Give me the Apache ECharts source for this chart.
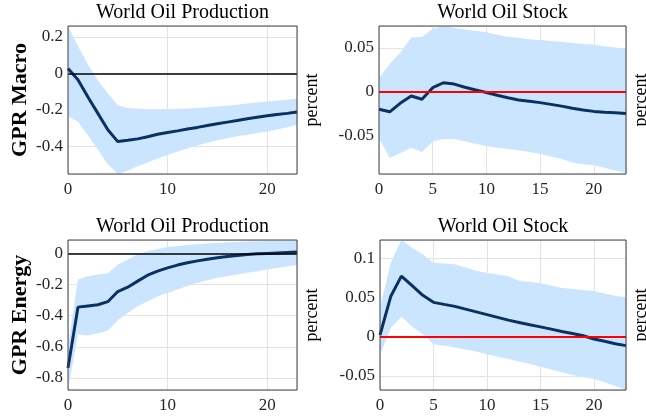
<!DOCTYPE html>
<html><head><meta charset="utf-8">
<script src="https://cdn.jsdelivr.net/npm/echarts@6/dist/echarts.min.js"></script>
<style>html,body{margin:0;padding:0;background:#fff}#c{width:646px;height:416px}</style>
</head><body><div id="c"></div>
<script>
// horizons
const horizon = [0,1,2,3,4,5,6,7,8,9,10,11,12,13,14,15,16,17,18,19,20,21,22,23];

// GPR Macro -> World Oil Production
const macroProd   = [0.027,-0.035,-0.13,-0.22,-0.31,-0.375,-0.368,-0.360,-0.348,-0.335,-0.325,-0.316,-0.306,-0.297,-0.287,-0.277,-0.268,-0.259,-0.250,-0.241,-0.233,-0.226,-0.220,-0.212];
const macroProdHi = [0.26,0.15,0.05,-0.04,-0.11,-0.175,-0.19,-0.195,-0.2,-0.2,-0.198,-0.196,-0.193,-0.19,-0.186,-0.182,-0.177,-0.172,-0.166,-0.16,-0.155,-0.15,-0.145,-0.138];
const macroProdLo = [-0.237,-0.265,-0.34,-0.42,-0.5,-0.56,-0.535,-0.51,-0.49,-0.468,-0.448,-0.43,-0.413,-0.397,-0.381,-0.367,-0.356,-0.346,-0.337,-0.328,-0.32,-0.308,-0.296,-0.284];

// GPR Macro -> World Oil Stock
const macroStock   = [-0.020,-0.023,-0.013,-0.005,-0.0087,0.0046,0.0102,0.0087,0.005,0.002,-0.001,-0.004,-0.007,-0.0095,-0.011,-0.0125,-0.0145,-0.0165,-0.019,-0.021,-0.0225,-0.0235,-0.024,-0.025];
const macroStockHi = [0.0152,0.032,0.045,0.062,0.0625,0.072,0.0747,0.073,0.071,0.0695,0.068,0.065,0.0625,0.0615,0.060,0.059,0.058,0.057,0.0555,0.0545,0.054,0.052,0.0505,0.049];
const macroStockLo = [-0.053,-0.0757,-0.07,-0.064,-0.069,-0.057,-0.054,-0.054,-0.057,-0.0595,-0.062,-0.064,-0.0655,-0.067,-0.069,-0.071,-0.074,-0.077,-0.081,-0.083,-0.084,-0.087,-0.09,-0.093];

// GPR Energy -> World Oil Production
const energyProd   = [-0.735,-0.345,-0.337,-0.33,-0.31,-0.245,-0.217,-0.178,-0.14,-0.114,-0.093,-0.075,-0.06,-0.048,-0.037,-0.028,-0.02,-0.013,-0.007,-0.003,0.0,0.003,0.006,0.009];
const energyProdHi = [-0.6,-0.168,-0.146,-0.135,-0.127,-0.073,-0.039,-0.006,0.015,0.028,0.041,0.048,0.054,0.059,0.063,0.067,0.07,0.073,0.076,0.078,0.08,0.082,0.084,0.086];
const energyProdLo = [-0.95,-0.52,-0.527,-0.512,-0.497,-0.43,-0.383,-0.34,-0.307,-0.275,-0.254,-0.232,-0.21,-0.19,-0.172,-0.157,-0.146,-0.135,-0.125,-0.114,-0.103,-0.093,-0.084,-0.075];

// GPR Energy -> World Oil Stock
const energyStock   = [0.002,0.051,0.077,0.065,0.0526,0.0436,0.041,0.0385,0.035,0.0315,0.028,0.0245,0.021,0.018,0.015,0.0124,0.0095,0.0064,0.004,0.001,-0.003,-0.006,-0.009,-0.0115];
const energyStockHi = [0.036,0.094,0.125,0.113,0.105,0.094,0.093,0.092,0.088,0.084,0.081,0.079,0.077,0.071,0.0695,0.068,0.065,0.062,0.061,0.059,0.058,0.055,0.052,0.05];
const energyStockLo = [-0.0235,0.0107,0.0256,0.0128,0.003,-0.0098,-0.0115,-0.014,-0.0165,-0.019,-0.0226,-0.0256,-0.0286,-0.0316,-0.035,-0.0385,-0.042,-0.0455,-0.049,-0.0515,-0.054,-0.058,-0.063,-0.068];

const titles = ['World Oil Production','World Oil Stock','World Oil Production','World Oil Stock'];
const rowNames = ['GPR Macro','','GPR Energy',''];
const unitLabel = 'percent';

const FONT = '"Liberation Serif", "DejaVu Serif", serif';
const LINE = '#0a3161';
const BAND = '#cce5ff';

const panels = [
  {grid:{left:68,top:26,width:229,height:148}, mean:macroProd, hi:macroProdHi, lo:macroProdLo, ymin:-0.553, ymax:0.26, ysplit:4, xint:10, zero:'#000', zw:1.5, unitX:312.6},
  {grid:{left:379,top:26,width:247,height:148}, mean:macroStock, hi:macroStockHi, lo:macroStockLo, ymin:-0.094, ymax:0.075, ysplit:3, xint:5, zero:'#ff0000', zw:1.8, unitX:641},
  {grid:{left:68,top:240,width:229,height:150}, mean:energyProd, hi:energyProdHi, lo:energyProdLo, ymin:-0.877, ymax:0.086, ysplit:5, xint:10, zero:'#000', zw:1.5, unitX:312.6},
  {grid:{left:380,top:240,width:246,height:150}, mean:energyStock, hi:energyStockHi, lo:energyStockLo, ymin:-0.068, ymax:0.123, ysplit:4, xint:5, zero:'#ff0000', zw:1.8, unitX:641}
];

const grid = [], xAxis = [], yAxis = [], series = [], graphic = [];
const labelStyle = {fontFamily: FONT, fontSize: 17, color: '#262626'};

panels.forEach((p, i) => {
  grid.push(Object.assign({show:true, borderColor:'#404040', borderWidth:1, backgroundColor:'transparent', z:10}, p.grid));
  xAxis.push({
    gridIndex:i, type:'value', min:0, max:23, interval:p.xint,
    axisLine:{show:false}, axisTick:{show:false},
    axisLabel:Object.assign({showMaxLabel:false, margin:7}, labelStyle),
    splitLine:{show:true, lineStyle:{color:'#e3e3e3', width:1}}
  });
  yAxis.push({
    gridIndex:i, type:'value', min:p.ymin, max:p.ymax, splitNumber:p.ysplit,
    axisLine:{show:false}, axisTick:{show:false},
    axisLabel:Object.assign({showMinLabel:false, showMaxLabel:false, margin:5}, labelStyle),
    splitLine:{show:true, lineStyle:{color:'#e3e3e3', width:1}},
    name: rowNames[i], nameLocation:'middle', nameGap:37,
    nameTextStyle:{fontFamily:FONT, fontSize:22, fontWeight:'bold', color:'#000'}
  });
  // confidence band: one polygon through upper bounds then back through lower bounds
  const bandRows = horizon.map((h, k) => [h, p.lo[k], p.hi[k]]);
  series.push({
    type:'custom', xAxisIndex:i, yAxisIndex:i, silent:true, z:1,
    data:[[0, p.ymin, p.ymax]], encode:{x:0, y:[1,2]},
    renderItem: function (params, api) {
      const upper = bandRows.map(r => api.coord([r[0], r[2]]));
      const lower = bandRows.slice().reverse().map(r => api.coord([r[0], r[1]]));
      const pts = echarts.graphic.clipPointsByRect(upper.concat(lower), params.coordSys);
      return {type:'polygon', shape:{points:pts}, style:{fill:BAND, stroke:null}};
    }
  });
  // zero reference line
  series.push({
    type:'line', xAxisIndex:i, yAxisIndex:i, data:[], symbol:'none', silent:true, z:2,
    markLine:{symbol:'none', silent:true, label:{show:false}, animation:false,
      lineStyle:{color:p.zero, width:p.zw, type:'solid'}, data:[{yAxis:0}]}
  });
  series.push({
    type:'line', xAxisIndex:i, yAxisIndex:i,
    data: horizon.map((h, k) => [h, p.mean[k]]),
    symbol:'none', silent:true, lineStyle:{color:LINE, width:3}, z:3
  });
  const g = p.grid;
  graphic.push({type:'text', x:g.left + g.width/2, y:g.top - 13, silent:true,
    style:{text:titles[i], font:'20px ' + FONT, fill:'#000', align:'center', verticalAlign:'middle'}});
  graphic.push({type:'text', x:p.unitX, y:g.top + g.height/2, rotation:Math.PI/2, silent:true,
    style:{text:unitLabel, font:'18px ' + FONT, fill:'#000', align:'center', verticalAlign:'middle'}});
});

const chart = echarts.init(document.getElementById('c'), null, {renderer:'canvas'});
chart.setOption({animation:false, grid, xAxis, yAxis, series, graphic});
</script>
</body></html>
